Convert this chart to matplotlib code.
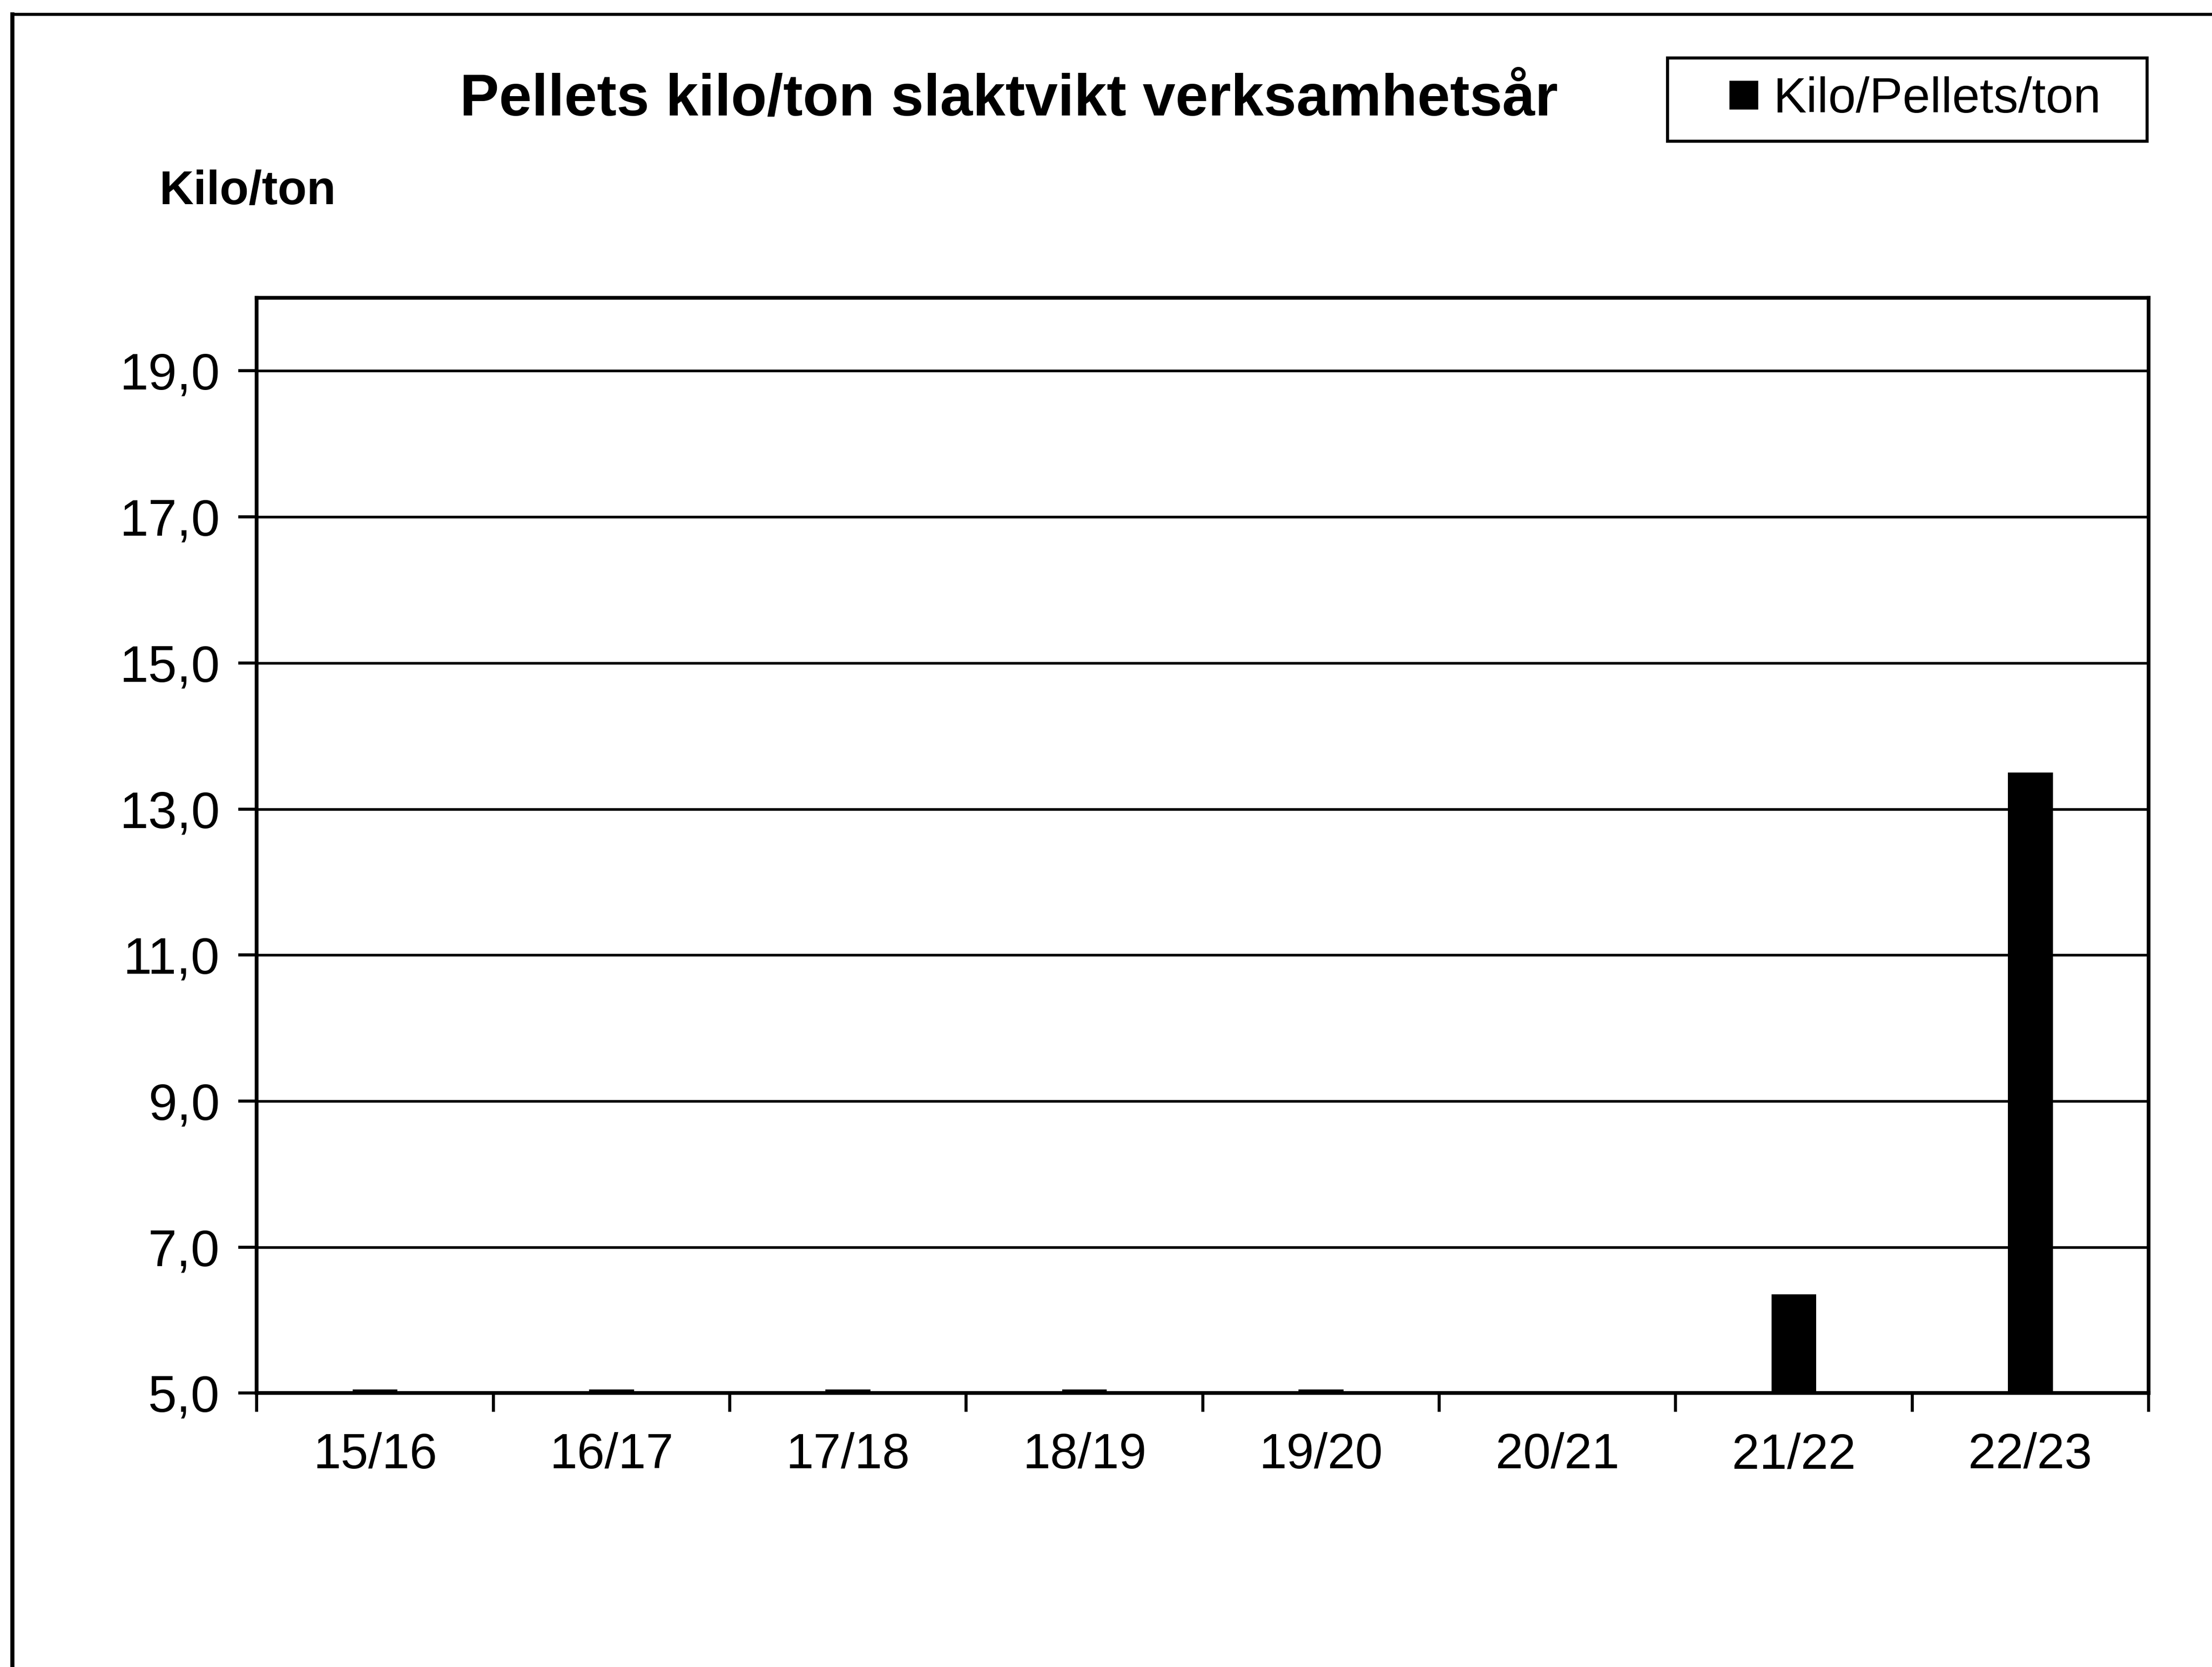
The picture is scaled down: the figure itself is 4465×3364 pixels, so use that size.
import numpy as np
import matplotlib
matplotlib.use('Agg')
import matplotlib.pyplot as plt
from matplotlib.lines import Line2D
from matplotlib.patches import Rectangle

# data
seasons = ['15/16', '16/17', '17/18', '18/19', '19/20', '20/21', '21/22', '22/23']
kilo_per_ton = [5.05, 5.05, 5.05, 5.05, 5.05, 5.0, 6.35, 13.5]
yticks = [5.0, 7.0, 9.0, 11.0, 13.0, 15.0, 17.0, 19.0]
ytick_labels = ['5,0', '7,0', '9,0', '11,0', '13,0', '15,0', '17,0', '19,0']

title = 'Pellets kilo/ton slaktvikt verksamhetsår'
ylab = 'Kilo/ton'
leg_label = 'Kilo/Pellets/ton'

plt.rcParams['font.family'] = ['Liberation Sans', 'DejaVu Sans']

W, H, DPI = 4465, 3364, 300
fig = plt.figure(figsize=(W/DPI, H/DPI), dpi=DPI, facecolor='white')
ax = fig.add_axes([0.1161, 0.1643, 0.9713-0.1161, 0.8213-0.1643])

x = np.arange(len(seasons))
bars = ax.bar(x, np.array(kilo_per_ton)-5.0, bottom=5.0, width=0.19, color='black',
              label=leg_label, zorder=3)

ax.set_xlim(-0.5, len(seasons)-0.5)
ax.set_ylim(5.0, 20.0)
ax.set_yticks(yticks)
ax.set_yticklabels(ytick_labels)
ax.set_xticks(x)
ax.set_xticklabels(seasons)
ax.set_xticks(np.arange(-0.5, len(seasons)), minor=True)
ax.tick_params(axis='x', which='major', length=0, pad=19, labelsize=24)
ax.tick_params(axis='x', which='minor', length=9, width=1.5, direction='out')
ax.tick_params(axis='y', which='major', length=9, width=1.5, direction='out', pad=9, labelsize=25)

ax.grid(axis='y', color='black', linewidth=1.3, zorder=1)
ax.set_axisbelow(True)
for s in ax.spines.values():
    s.set_linewidth(1.8)
    s.set_color('black')

fig.text(0.456, 0.940, title, ha='center', va='center', fontsize=28.5, fontweight='bold')
fig.text(0.072, 0.885, ylab, ha='left', va='center', fontsize=23, fontweight='bold')

# legend box
fig.patches.append(Rectangle((0.7538, 0.9153), 0.2169, 0.0500, transform=fig.transFigure,
                             fill=False, edgecolor='black', linewidth=1.5))
handle = Line2D([], [], marker='s', color='black', linestyle='none', markersize=13)
fig.legend([handle], [leg_label], loc='center', bbox_to_anchor=(0.8658, 0.9403),
           frameon=False, fontsize=24, handlelength=0.6, handletextpad=0.3,
           borderpad=0.2)

# outer frame of the scanned chart (left and top edges)
fig.add_artist(Line2D([0.0055, 0.0055], [0.0, 0.9915], transform=fig.transFigure,
                      color='black', linewidth=2.0))
fig.add_artist(Line2D([0.0055, 1.0], [0.9915, 0.9915], transform=fig.transFigure,
                      color='black', linewidth=1.5))

fig.savefig('out.png', dpi=DPI, facecolor='white')
